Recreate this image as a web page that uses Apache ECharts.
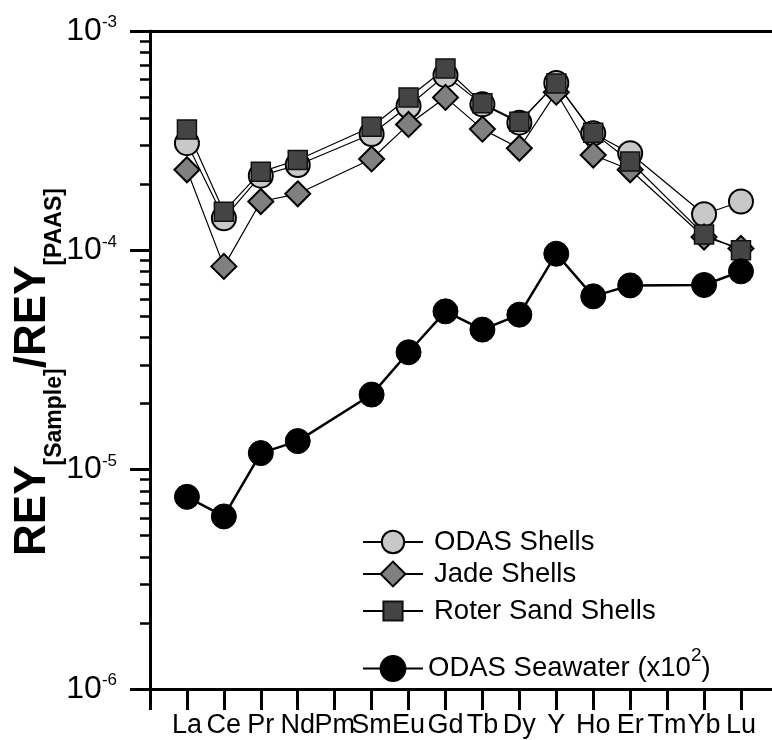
<!DOCTYPE html>
<html>
<head>
<meta charset="utf-8">
<title>REY patterns</title>
<script src="https://cdn.jsdelivr.net/npm/echarts@6/dist/echarts.min.js"></script>
<style>
  html, body { margin: 0; padding: 0; background: #fff; }
  #chart { width: 772px; height: 740px; }
</style>
</head>
<body>
<div id="chart"></div>
<script>
// REY normalised to PAAS, Pm and Tm not measured
const elements = ['La', 'Ce', 'Pr', 'Nd', 'Pm', 'Sm', 'Eu', 'Gd', 'Tb', 'Dy', 'Y', 'Ho', 'Er', 'Tm', 'Yb', 'Lu']
const odasShells = [3.08e-4, 1.40e-4, 2.19e-4, 2.45e-4, null, 3.39e-4, 4.55e-4, 6.29e-4, 4.63e-4, 3.82e-4, 5.80e-4, 3.42e-4, 2.77e-4, null, 1.46e-4, 1.67e-4]
const jadeShells = [2.33e-4, 8.45e-5, 1.67e-4, 1.81e-4, null, 2.61e-4, 3.75e-4, 4.98e-4, 3.57e-4, 2.92e-4, 5.26e-4, 2.72e-4, 2.33e-4, null, 1.15e-4, 1.02e-4]
const roterSandShells = [3.56e-4, 1.50e-4, 2.28e-4, 2.58e-4, null, 3.66e-4, 4.98e-4, 6.75e-4, 4.68e-4, 3.86e-4, 5.77e-4, 3.44e-4, 2.54e-4, null, 1.18e-4, 1.00e-4]
const odasSeawater = [7.52e-6, 6.12e-6, 1.19e-5, 1.35e-5, null, 2.20e-5, 3.43e-5, 5.27e-5, 4.35e-5, 5.09e-5, 9.65e-5, 6.17e-5, 6.92e-5, null, 6.95e-5, 8.02e-5]
const yMajorTicks = [1e-6, 1e-5, 1e-4, 1e-3]

const NARROW = '"Liberation Sans Narrow", "Liberation Sans", Arial, sans-serif'
const SANS = '"Liberation Sans", Arial, sans-serif'

// minor ticks 2..9 in each decade
const yMinorTicks = []
for (let i = 0; i < yMajorTicks.length - 1; i++) {
  for (let k = 2; k <= 9; k++) yMinorTicks.push(+(k * yMajorTicks[i]).toPrecision(3))
}

const xTicks = elements.map((e, i) => i + 1)
const toPoints = values => values.map((v, i) => v == null ? null : [i + 1, v]).filter(p => p)

const chart = echarts.init(document.getElementById('chart'))

function legendItem (name, top, itemHeight, extra) {
  return Object.assign({
    data: [name],
    left: 362,
    top: top,
    padding: 0,
    itemWidth: 60,
    itemHeight: itemHeight,
    selectedMode: false,
    textStyle: {
      fontFamily: SANS,
      fontSize: 27.5,
      color: '#000',
      padding: [0, 0, 0, 6]
    }
  }, extra || {})
}

const option = {
  animation: false,
  backgroundColor: '#fff',
  grid: {
    left: 150,
    right: 0,
    top: 31,
    bottom: 51,
    containLabel: false,
    outerBoundsMode: 'none'
  },
  legend: [
    legendItem('ODAS Shells', 528, 28),
    legendItem('Jade Shells', 560, 31),
    legendItem('Roter Sand Shells', 597, 24),
    legendItem('ODAS Seawater', 646, 31, {
      formatter: () => '{n|ODAS Seawater (x10}{s|2}{n|)}',
      textStyle: {
        fontFamily: SANS,
        fontSize: 27.5,
        color: '#000',
        rich: {
          n: { fontFamily: SANS, fontSize: 27.5, lineHeight: 28, color: '#000' },
          s: { fontFamily: SANS, fontSize: 19, lineHeight: 19, padding: [0, 0, 26, 0], color: '#000' }
        }
      }
    })
  ],
  xAxis: [
    {
      type: 'value',
      position: 'bottom',
      min: 0,
      max: 16.84,
      axisLine: { show: true, lineStyle: { color: '#000', width: 3 } },
      axisTick: { show: true, customValues: [0].concat(xTicks), length: 21, lineStyle: { color: '#000', width: 3 } },
      axisLabel: {
        customValues: xTicks,
        formatter: v => elements[v - 1] || '',
        margin: 23,
        fontFamily: NARROW,
        fontSize: 27,
        color: '#000'
      },
      splitLine: { show: false }
    },
    {
      type: 'value',
      position: 'top',
      min: 0,
      max: 16.84,
      axisLine: { show: true, lineStyle: { color: '#000', width: 3 } },
      axisTick: { show: false },
      axisLabel: { show: false },
      splitLine: { show: false }
    }
  ],
  yAxis: [
    {
      type: 'log',
      logBase: 10,
      position: 'left',
      min: 1e-6,
      max: 1e-3,
      axisLine: { show: true, lineStyle: { color: '#000', width: 3 } },
      axisTick: { show: true, customValues: yMajorTicks, length: 20, lineStyle: { color: '#000', width: 3 } },
      axisLabel: {
        customValues: yMajorTicks,
        margin: 33,
        formatter: v => '{b|10}{s|' + Math.round(Math.log10(v)) + '}',
        rich: {
          b: { fontFamily: NARROW, fontSize: 32, lineHeight: 32, color: '#000' },
          s: { fontFamily: NARROW, fontSize: 17, lineHeight: 17, padding: [0, 0, 17, 0], color: '#000' }
        }
      },
      splitLine: { show: false },
      name: '{m|REY}{sub|[Sample]}{m|/REY}{sub|[PAAS]}',
      nameLocation: 'middle',
      nameRotate: 90,
      nameGap: 95,
      nameMoveOverlap: false,
      nameTextStyle: {
        padding: [0, 24, 0, 0],
        rich: {
          m: { fontFamily: SANS, fontWeight: 'bold', fontSize: 44, lineHeight: 44, color: '#000' },
          sub: { fontFamily: SANS, fontWeight: 'bold', fontSize: 23, lineHeight: 23, padding: [44, 0, 0, 0], color: '#000' }
        }
      }
    },
    {
      type: 'log',
      logBase: 10,
      position: 'left',
      min: 1e-6,
      max: 1e-3,
      axisLine: { show: false },
      axisTick: { show: true, customValues: yMinorTicks, length: 10, lineStyle: { color: '#000', width: 2.5 } },
      axisLabel: { show: false },
      splitLine: { show: false }
    }
  ],
  series: [
    {
      name: 'ODAS Shells',
      type: 'line',
      data: toPoints(odasShells),
      symbol: 'circle',
      symbolSize: 24,
      itemStyle: { color: '#c8c8c8', borderColor: '#000', borderWidth: 2 },
      lineStyle: { color: '#000', width: 1.2 }
    },
    {
      name: 'Jade Shells',
      type: 'line',
      data: toPoints(jadeShells),
      symbol: 'diamond',
      symbolSize: 25,
      itemStyle: { color: '#808080', borderColor: '#000', borderWidth: 2 },
      lineStyle: { color: '#000', width: 1.2 }
    },
    {
      name: 'Roter Sand Shells',
      type: 'line',
      data: toPoints(roterSandShells),
      symbol: 'rect',
      symbolSize: 19,
      itemStyle: { color: '#444444', borderColor: '#111', borderWidth: 1.5 },
      lineStyle: { color: '#000', width: 1.2 }
    },
    {
      name: 'ODAS Seawater',
      type: 'line',
      data: toPoints(odasSeawater),
      symbol: 'circle',
      symbolSize: 25,
      itemStyle: { color: '#000', borderColor: '#000', borderWidth: 1 },
      lineStyle: { color: '#000', width: 2.5 }
    }
  ]
}

chart.setOption(option)
</script>
</body>
</html>
